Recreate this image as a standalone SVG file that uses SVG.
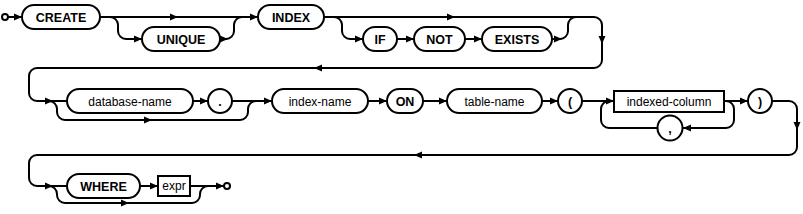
<svg xmlns="http://www.w3.org/2000/svg" xmlns:xlink="http://www.w3.org/1999/xlink" width="803" height="214" viewBox="0 0 803 214">
<style>
.ln{fill:none;stroke:#000;stroke-width:2}
.nd{fill:#fff;stroke:#000;stroke-width:2}
.kw{font-family:"Liberation Sans",Arial,sans-serif;font-size:12.5px;font-weight:bold;text-anchor:middle}
.id{font-family:"Liberation Sans",Arial,sans-serif;font-size:12px;text-anchor:middle}
</style>
<defs>
<path id="a" d="M0,0 L-8,-3.5 L-8,3.5 Z" fill="#000"/>
</defs>
<rect width="803" height="214" fill="#fff"/>
<g id="connectors">
<!-- row 1 -->
<path class="ln" d="M8,17 L22,17"/>
<path class="ln" d="M100,17 L258,17"/>
<path class="ln" d="M110,17 A8,8 0 0 1 118,25 L118,31 A8,8 0 0 0 126,39 L142,39"/>
<path class="ln" d="M220,39 L226,39 A8,8 0 0 0 234,31 L234,25 A8,8 0 0 1 242,17"/>
<path class="ln" d="M324,17 L594,17 A8,8 0 0 1 602,25 L602,60 A8,8 0 0 1 594,68 L37,68 A8,8 0 0 0 29,76 L29,93 A8,8 0 0 0 37,101 L67,101"/>
<path class="ln" d="M334,17 A8,8 0 0 1 342,25 L342,31 A8,8 0 0 0 350,39 L363,39"/>
<path class="ln" d="M397,39 L414,39"/>
<path class="ln" d="M465,39 L482,39"/>
<path class="ln" d="M552,39 L560,39 A8,8 0 0 0 568,31 L568,25 A8,8 0 0 1 576,17"/>
<use href="#a" x="22" y="17"/>
<use href="#a" x="178" y="17"/>
<use href="#a" x="142" y="39"/>
<use href="#a" x="228" y="39"/>
<use href="#a" x="258" y="17"/>
<use href="#a" x="455" y="17"/>
<use href="#a" x="363" y="39"/>
<use href="#a" x="414" y="39"/>
<use href="#a" x="482" y="39"/>
<use href="#a" x="562" y="39"/>
<use href="#a" transform="translate(602,44) rotate(90)"/>
<use href="#a" transform="translate(314,68) rotate(180)"/>
<!-- row 2 -->
<use href="#a" x="53" y="101"/>
<path class="ln" d="M49,101 A8,8 0 0 1 57,109 L57,112 A8,8 0 0 0 65,120 L240,120 A8,8 0 0 0 248,112 L248,109 A8,8 0 0 1 256,101"/>
<use href="#a" x="152" y="120"/>
<path class="ln" d="M193,101 L208,101"/>
<use href="#a" x="208" y="101"/>
<path class="ln" d="M232,101 L272,101"/>
<use href="#a" x="272" y="101"/>
<path class="ln" d="M368,101 L387,101"/>
<use href="#a" x="387" y="101"/>
<path class="ln" d="M423,101 L447,101"/>
<use href="#a" x="447" y="101"/>
<path class="ln" d="M542,101 L558,101"/>
<use href="#a" x="558" y="101"/>
<path class="ln" d="M582,101 L614,101"/>
<use href="#a" x="614" y="101"/>
<path class="ln" d="M658,128 L609,128 A8,8 0 0 1 601,120 L601,109 A8,8 0 0 1 609,101"/>
<path class="ln" d="M724,101 L748,101"/>
<use href="#a" x="748" y="101"/>
<path class="ln" d="M726,101 A8,8 0 0 1 734,109 L734,120 A8,8 0 0 1 726,128 L683,128"/>
<use href="#a" transform="translate(683,128) rotate(180)"/>
<path class="ln" d="M772,101 L789,101 A8,8 0 0 1 797,109 L797,147 A8,8 0 0 1 789,155 L37,155 A8,8 0 0 0 29,163 L29,178 A8,8 0 0 0 37,186 L67,186"/>
<use href="#a" transform="translate(797,130) rotate(90)"/>
<use href="#a" transform="translate(414,155) rotate(180)"/>
<!-- row 3 -->
<use href="#a" x="53" y="186"/>
<path class="ln" d="M49,186 A8,8 0 0 1 57,194 L57,195 A8,8 0 0 0 65,203 L192,203 A8,8 0 0 0 200,195 L200,194 A8,8 0 0 1 208,186"/>
<use href="#a" x="129" y="203"/>
<path class="ln" d="M140,186 L158,186"/>
<use href="#a" x="158" y="186"/>
<path class="ln" d="M190,186 L224,186"/>
<use href="#a" x="224" y="186"/>
</g>
<g id="start"><circle class="nd" cx="5" cy="17" r="3"/></g>
<g id="create"><rect class="nd" x="22" y="5" width="78" height="24" rx="12"/><text class="kw" x="61" y="21.5">CREATE</text></g>
<g id="unique"><rect class="nd" x="142" y="27" width="78" height="24" rx="12"/><text class="kw" x="181" y="43.5">UNIQUE</text></g>
<g id="index"><rect class="nd" x="258" y="5" width="66" height="24" rx="12"/><text class="kw" x="291" y="21.5">INDEX</text></g>
<g id="if"><rect class="nd" x="363" y="27" width="34" height="24" rx="12"/><text class="kw" x="380" y="43.5">IF</text></g>
<g id="not"><rect class="nd" x="414" y="27" width="51" height="24" rx="12"/><text class="kw" x="439.5" y="43.5">NOT</text></g>
<g id="exists"><rect class="nd" x="482" y="27" width="70" height="24" rx="12"/><text class="kw" x="517" y="43.5">EXISTS</text></g>
<g id="database-name"><rect class="nd" x="67" y="89" width="126" height="24" rx="12"/><text class="id" x="130" y="105.5">database-name</text></g>
<g id="dot"><circle class="nd" cx="220" cy="101" r="12"/><text class="kw" x="220" y="105.5">.</text></g>
<g id="index-name"><rect class="nd" x="272" y="89" width="96" height="24" rx="12"/><text class="id" x="320" y="105.5">index-name</text></g>
<g id="on"><rect class="nd" x="387" y="89" width="36" height="24" rx="12"/><text class="kw" x="405" y="105.5">ON</text></g>
<g id="table-name"><rect class="nd" x="447" y="89" width="95" height="24" rx="12"/><text class="id" x="494.5" y="105.5">table-name</text></g>
<g id="lparen"><circle class="nd" cx="570" cy="101" r="12"/><text class="kw" x="570" y="105.5">(</text></g>
<g id="indexed-column"><rect class="nd" x="614" y="91" width="110" height="21"/><text class="id" x="669" y="105.5">indexed-column</text></g>
<g id="comma"><circle class="nd" cx="670" cy="128" r="12.5"/><text class="kw" x="670" y="132.5">,</text></g>
<g id="rparen"><circle class="nd" cx="760" cy="101" r="12"/><text class="kw" x="760" y="105.5">)</text></g>
<g id="where"><rect class="nd" x="67" y="174" width="73" height="24" rx="12"/><text class="kw" x="103.5" y="190.5">WHERE</text></g>
<g id="expr"><rect class="nd" x="158" y="176" width="32" height="20"/><text class="id" x="174" y="190">expr</text></g>
<g id="end"><circle class="nd" cx="227" cy="186" r="3"/></g>
</svg>
